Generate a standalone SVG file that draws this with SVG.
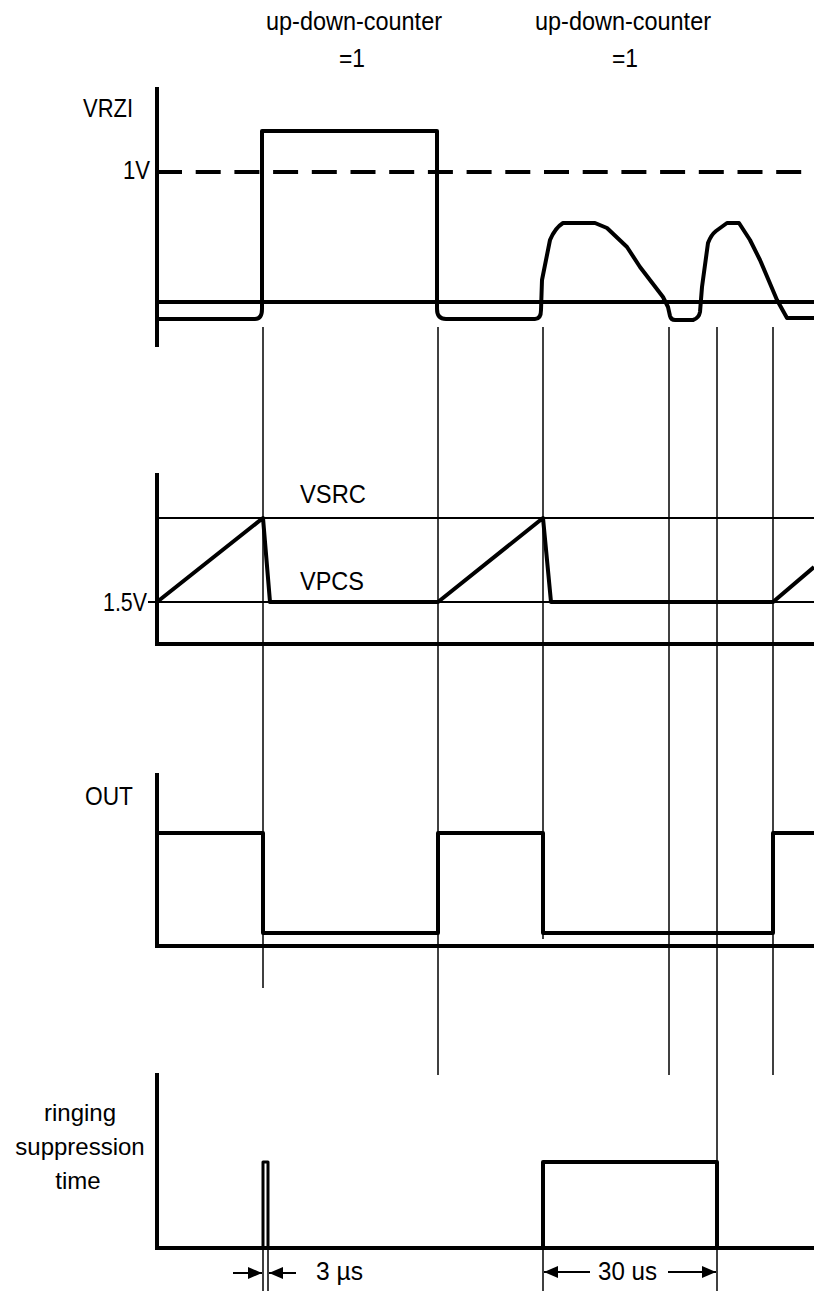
<svg xmlns="http://www.w3.org/2000/svg" width="814" height="1291" viewBox="0 0 814 1291">
<style>
  text { font-family: "Liberation Sans", Arial, sans-serif; font-size: 26px; fill: #000; }
  .mid { text-anchor: middle; }
  .end { text-anchor: end; }
  .sm { font-size: 24px; }
  .thick { fill: none; stroke: #000; stroke-width: 4; stroke-linejoin: round; }
  .axis { fill: none; stroke: #000; stroke-width: 4; stroke-linecap: square; }
  .thin { fill: none; stroke: #000; stroke-width: 1.5; }
  .ref { fill: none; stroke: #000; stroke-width: 2; }
  .dash { fill: none; stroke: #000; stroke-width: 4; stroke-dasharray: 25 13.7; }
  .arr { fill: none; stroke: #000; stroke-width: 2; }
</style>
<defs>
  <marker id="ah" viewBox="0 0 14 12" refX="14" refY="6" markerWidth="14" markerHeight="12" markerUnits="userSpaceOnUse" orient="auto">
    <path d="M0,0 L14,6 L0,12 Z" fill="#000"/>
  </marker>
</defs>

<g id="labels-top">
  <text class="mid" x="354" y="30" textLength="176" lengthAdjust="spacingAndGlyphs">up-down-counter</text>
  <text class="mid" x="352" y="67" textLength="26" lengthAdjust="spacingAndGlyphs">=1</text>
  <text class="mid" x="623" y="30" textLength="176" lengthAdjust="spacingAndGlyphs">up-down-counter</text>
  <text class="mid" x="625" y="67" textLength="26" lengthAdjust="spacingAndGlyphs">=1</text>
</g>

<g id="vrzi">
  <text x="83" y="117" textLength="50" lengthAdjust="spacingAndGlyphs">VRZI</text>
  <text x="123" y="179" textLength="27" lengthAdjust="spacingAndGlyphs">1V</text>
  <line class="axis" x1="157" y1="89" x2="157" y2="345"/>
  <line class="axis" x1="157" y1="302" x2="814" y2="302"/>
  <line class="dash" x1="157" y1="172" x2="814" y2="172"/>
  <path class="thick" d="M157,319 H255 Q262,319 262,309 V131 H437 V309 Q437,319 446,319 H535 Q541,319 541,310 L542,280 L550,240 Q555,228 563,223 H595 L607,228 L627,247 L640,267 L663,297 L668,307 L670,316 Q671,320 675,320 H693 Q699,318 700,312 L702,287 L708,243 Q711,235 716,231 L727,223 H739 L750,240 L760,260 L777,300 L787,318 H814"/>
</g>

<g id="vsrc">
  <text x="300" y="503" textLength="66" lengthAdjust="spacingAndGlyphs">VSRC</text>
  <text x="300" y="590" textLength="64" lengthAdjust="spacingAndGlyphs">VPCS</text>
  <text class="end" x="147" y="611" textLength="44" lengthAdjust="spacingAndGlyphs">1.5V</text>
  <line class="axis" x1="157" y1="475" x2="157" y2="644"/>
  <line class="axis" x1="157" y1="644" x2="814" y2="644"/>
  <line class="ref" x1="157" y1="518" x2="814" y2="518"/>
  <line class="ref" x1="148" y1="602" x2="814" y2="602"/>
  <path class="thick" d="M157,602 L263,518 L270,602 H438 L543,518 L551,602 H773 L814,567"/>
</g>

<g id="out">
  <text x="85" y="805" textLength="48" lengthAdjust="spacingAndGlyphs">OUT</text>
  <line class="axis" x1="157" y1="775" x2="157" y2="946"/>
  <line class="axis" x1="157" y1="946" x2="814" y2="946"/>
  <path class="thick" d="M157,833 H263 V933 H438 V833 H543 V933 H773 V833 H814"/>
</g>

<g id="ringing">
  <text class="mid sm" x="80" y="1121">ringing</text>
  <text class="mid sm" x="80" y="1155">suppression</text>
  <text class="mid sm" x="78" y="1189">time</text>
  <line class="axis" x1="157" y1="1075" x2="157" y2="1248"/>
  <line class="axis" x1="157" y1="1248" x2="814" y2="1248"/>
  <path class="thick" d="M263,1248 V1162 H268 V1248" style="stroke-width:3"/>
  <path class="thick" d="M543,1248 V1162 H717 V1248"/>
</g>

<g id="connectors">
  <line class="thin" x1="263" y1="327" x2="263" y2="988"/>
  <line class="thin" x1="438" y1="327" x2="438" y2="1075"/>
  <line class="thin" x1="543" y1="327" x2="543" y2="939"/>
  <line class="thin" x1="669" y1="327" x2="669" y2="1075"/>
  <line class="thin" x1="717" y1="327" x2="717" y2="1291"/>
  <line class="thin" x1="773" y1="327" x2="773" y2="1075"/>
  <line class="thin" x1="263" y1="1248" x2="263" y2="1291"/>
  <line class="thin" x1="268" y1="1248" x2="268" y2="1291"/>
  <line class="thin" x1="543" y1="1248" x2="543" y2="1291"/>
  <line class="arr" x1="233" y1="1273" x2="262" y2="1273" marker-end="url(#ah)"/>
  <line class="arr" x1="296" y1="1273" x2="269" y2="1273" marker-end="url(#ah)"/>
  <line class="arr" x1="590" y1="1272" x2="544" y2="1272" marker-end="url(#ah)"/>
  <line class="arr" x1="668" y1="1272" x2="716" y2="1272" marker-end="url(#ah)"/>
</g>

<g id="dimension-labels">
  <text x="316" y="1280" textLength="47" lengthAdjust="spacingAndGlyphs">3 µs</text>
  <text x="598" y="1280" textLength="59" lengthAdjust="spacingAndGlyphs">30 us</text>
</g>
</svg>
